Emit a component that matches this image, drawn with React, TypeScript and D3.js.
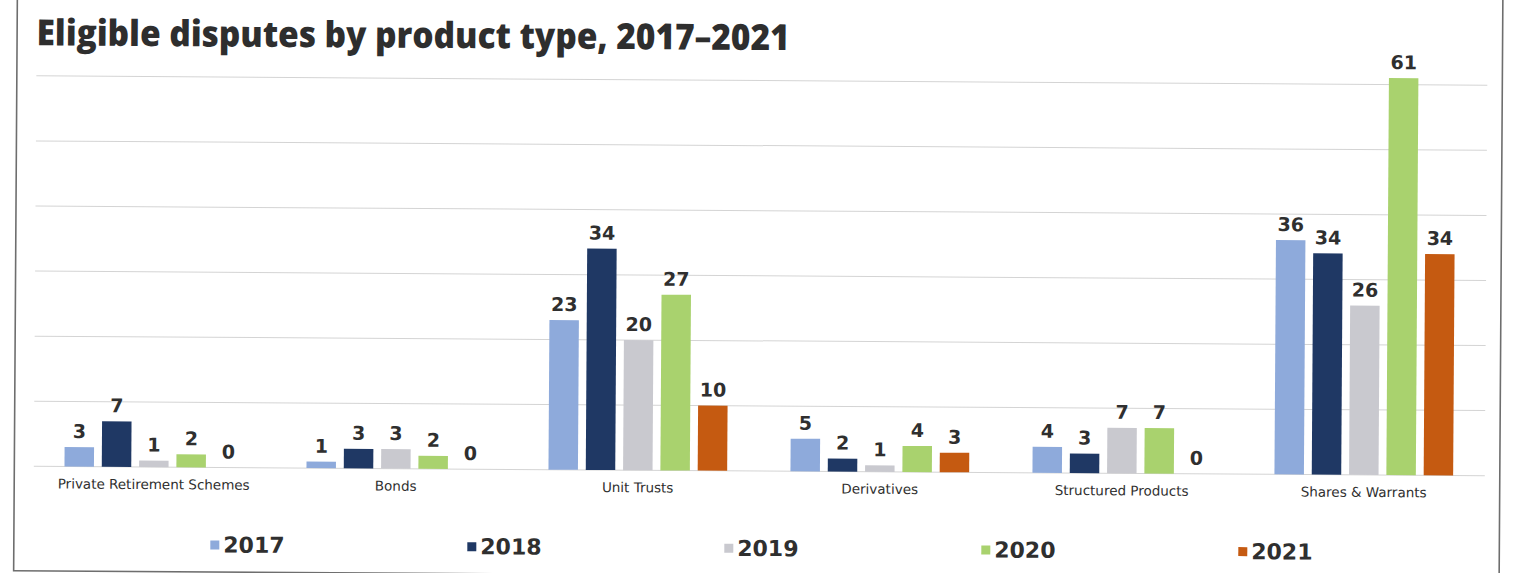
import React from 'react';
import * as d3 from 'd3';

const categories = [
  'Private Retirement Schemes',
  'Bonds',
  'Unit Trusts',
  'Derivatives',
  'Structured Products',
  'Shares & Warrants',
];
const years = ['2017', '2018', '2019', '2020', '2021'];
const v2017 = [3, 1, 23, 5, 4, 36];
const v2018 = [7, 3, 34, 2, 3, 34];
const v2019 = [1, 3, 20, 1, 7, 26];
const v2020 = [2, 2, 27, 4, 7, 61];
const v2021 = [0, 0, 10, 3, 0, 34];
const yTicks = [0, 10, 20, 30, 40, 50, 60];
const yearColors = ['#8eaadb', '#1f3864', '#c9c9cf', '#a9d26e', '#c55a11'];
const title = 'Eligible disputes by product type, 2017–2021';

const series = [v2017, v2018, v2019, v2020, v2021];

export default function App() {
  const W = 1514;
  const H = 573;
  const x0 = d3.scaleBand<string>().domain(categories).range([34, 1486]).padding(0);
  const groupW = 178.7;
  const x1 = d3.scaleBand<string>().domain(years).range([0, groupW]).paddingInner(0.21).paddingOuter(0);
  const y = d3.scaleLinear().domain([0, 60]).range([471, 80.5]);
  const legendX = d3.scalePoint<string>().domain(years).range([212, 1240]);
  const textColor = '#2f2f2f';

  return (
    <svg
      width={W}
      height={H}
      style={{ position: 'absolute', left: 0, top: 0, background: '#ffffff' }}
    >
      <g transform="rotate(0.37 757 286)">
        <rect x={15.5} y={-20} width={1501 - 15.5} height={575.5 + 20} fill="none" stroke="#6e6e6e" strokeWidth={1.6} />
        <text
          x={35}
          y={50}
          fontFamily="'Open Sans', sans-serif"
          fontWeight={800}
          fontSize={36}
          fill="#2e2e2e"
          textLength={753}
          lengthAdjust="spacingAndGlyphs"
        >
          {title}
        </text>
        {yTicks.map((t) => (
          <line key={t} x1={35} x2={1486} y1={y(t)} y2={y(t)} stroke="#d4d4d4" strokeWidth={1} />
        ))}
        {categories.map((c, ci) => {
          const gx = (x0(c) as number) + x0.bandwidth() / 2 - groupW / 2;
          return (
            <g key={c}>
              {years.map((yr, yi) => {
                const v = series[yi][ci];
                const bx = gx + (x1(yr) as number);
                const bw = x1.bandwidth();
                return (
                  <g key={yr}>
                    {v > 0 && (
                      <rect x={bx} y={y(v)} width={bw} height={y(0) - y(v)} fill={yearColors[yi]} />
                    )}
                    <text
                      x={bx + bw / 2}
                      y={y(v) - 9}
                      textAnchor="middle"
                      fontFamily="'DejaVu Sans', Verdana, sans-serif"
                      fontWeight={700}
                      fontSize={19}
                      fill={textColor}
                    >
                      {v}
                    </text>
                  </g>
                );
              })}
              <text
                x={(x0(c) as number) + x0.bandwidth() / 2}
                y={493}
                textAnchor="middle"
                fontFamily="'DejaVu Sans', Verdana, sans-serif"
                fontSize={13.5}
                fill={textColor}
              >
                {c}
              </text>
            </g>
          );
        })}
        {years.map((yr, yi) => {
          const lx = legendX(yr) as number;
          return (
            <g key={yr}>
              <rect x={lx} y={544} width={9} height={9} fill={yearColors[yi]} />
              <text
                x={lx + 13}
                y={556}
                fontFamily="'DejaVu Sans', Verdana, sans-serif"
                fontWeight={700}
                fontSize={22}
                fill={textColor}
              >
                {yr}
              </text>
            </g>
          );
        })}
      </g>
    </svg>
  );
}
